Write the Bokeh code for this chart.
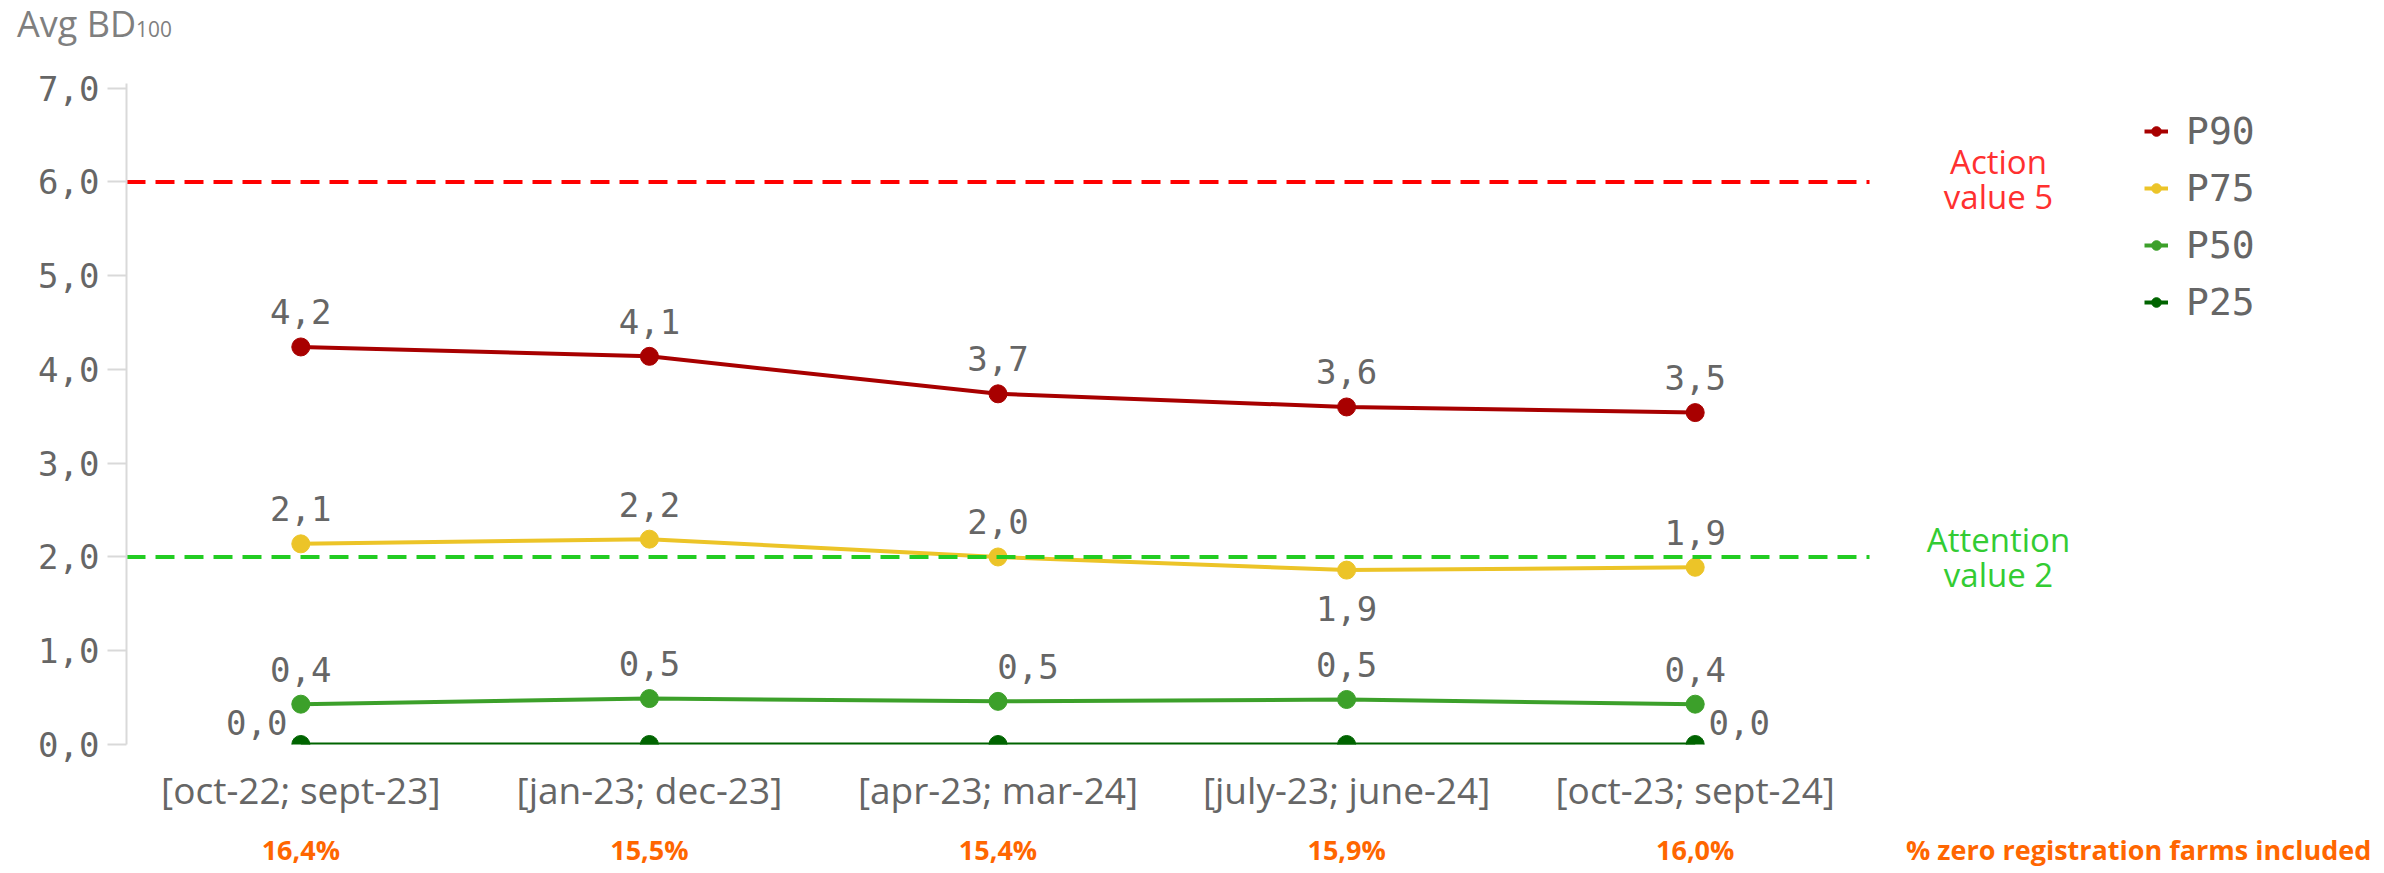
from bokeh.plotting import figure
from bokeh.layouts import column
from bokeh.models import (ColumnDataSource, Range1d, FixedTicker, Label, LinearAxis,
                          Legend, LegendItem, Div)
from bokeh.core.properties import value
from bokeh.embed import file_html
from bokeh.resources import INLINE

# ---------------- data ----------------
periods = ["[oct-22; sept-23]", "[jan-23; dec-23]", "[apr-23; mar-24]",
           "[july-23; june-24]", "[oct-23; sept-24]"]
series_names = ["P90", "P75", "P50", "P25"]
p90 = [4.24, 4.14, 3.74, 3.60, 3.54]
p75 = [2.14, 2.19, 2.00, 1.86, 1.89]
p50 = [0.43, 0.49, 0.46, 0.48, 0.43]
p25 = [0.0, 0.0, 0.0, 0.0, 0.0]
zero_reg_pct = [16.4, 15.5, 15.4, 15.9, 16.0]
zero_reg_caption = "% zero registration farms included"
action_value = 6.0
attention_value = 2.0
y_ticks = [0, 1, 2, 3, 4, 5, 6, 7]
title_main, title_sub = "Avg BD", "100"

# ---------------- styles ----------------
colors = {"P90": "#a80000", "P75": "#ecc428", "P50": "#3ca02a", "P25": "#006400"}
MONO = "DejaVu Sans Mono"
SANS = "Open Sans"
GRAY = "#666666"
ORANGE = "#ff6600"

# label placement (screen offsets, px) per series and point; None => hidden
ABOVE = (0, -35)
label_pos = {
    "P90": [ABOVE] * 5,
    "P75": [ABOVE, ABOVE, ABOVE, (0, 38), ABOVE],
    "P50": [ABOVE, ABOVE, (30, -35), ABOVE, ABOVE],
    "P25": [(-44, -22), None, None, None, (44, -22)],
}

def fmt(v):
    return f"{v:.1f}".replace(".", ",")

n = len(periods)
xs = [i + 0.5 for i in range(n)]          # category centres
X_END = 6.4773                            # extra room on the right for legend / notes
CAPTION_X = 5.772
NOTE_X = 5.37

W = 2384
TITLE_H = 50
H = 873 - TITLE_H

title = Div(text=f'{title_main}<span style="font-size:58%">{title_sub}</span>',
            width=W, height=TITLE_H, margin=0,
            styles={"font-family": "Open Sans", "font-size": "36px", "color": "#7f7f7f",
                    "line-height": "36px", "padding-top": "6px", "padding-left": "17px",
                    "white-space": "nowrap"})

p = figure(x_range=Range1d(0, X_END), y_range=Range1d(0, 7.05),
           width=W, height=H, output_backend="svg", toolbar_location=None,
           min_border_left=126, min_border_right=0, min_border_top=83 - TITLE_H,
           min_border_bottom=129)
p.outline_line_color = None
p.xgrid.visible = False
p.ygrid.visible = False
p.background_fill_color = "white"
p.border_fill_color = "white"

# y axis
ya = p.yaxis[0]
ya.ticker = FixedTicker(ticks=y_ticks)
ya.major_label_overrides = {t: fmt(t) for t in y_ticks}
ya.axis_line_color = "#d9d9d9"
ya.axis_line_width = 2
ya.major_tick_line_color = "#d9d9d9"
ya.major_tick_line_width = 2
ya.major_tick_out = 19
ya.major_tick_in = 0
ya.minor_tick_line_color = None
ya.major_label_standoff = 8
ya.major_label_text_font = MONO
ya.major_label_text_font_size = "34px"
ya.major_label_text_color = GRAY

# x axis (period labels)
xa = p.xaxis[0]
xa.ticker = FixedTicker(ticks=xs)
xa.major_label_overrides = {x: lab for x, lab in zip(xs, periods)}
xa.axis_line_color = None
xa.major_tick_line_color = None
xa.minor_tick_line_color = None
xa.major_tick_out = 0
xa.major_tick_in = 0
xa.major_label_standoff = 19
xa.major_label_text_font = SANS
xa.major_label_text_font_size = "37px"
xa.major_label_text_color = GRAY

# second x axis (share of zero-registration farms)
xa2 = LinearAxis(ticker=FixedTicker(ticks=xs + [CAPTION_X]))
xa2.major_label_overrides = {**{x: fmt(v) + "%" for x, v in zip(xs, zero_reg_pct)},
                             CAPTION_X: zero_reg_caption}
xa2.axis_line_color = None
xa2.major_tick_line_color = None
xa2.minor_tick_line_color = None
xa2.major_tick_out = 0
xa2.major_tick_in = 0
xa2.major_label_standoff = 13
xa2.major_label_text_font = SANS
xa2.major_label_text_font_style = "bold"
xa2.major_label_text_font_size = "27px"
xa2.major_label_text_color = ORANGE
p.add_layout(xa2, "below")

# action threshold line (over the category span)
p.segment(x0=[0], x1=[n], y0=[action_value], y1=[action_value], line_color="#ff0000",
          line_width=4, line_dash="19 10")

# series
values = {"P90": p90, "P75": p75, "P50": p50, "P25": p25}
legend_items = []
for name in series_names:
    vals = values[name]
    src = ColumnDataSource(dict(x=xs, y=vals))
    lr = p.line("x", "y", source=src, line_color=colors[name], line_width=4)
    sr = p.scatter("x", "y", source=src, size=18, fill_color=colors[name],
                   line_color=colors[name])
    legend_items.append(LegendItem(label=name, renderers=[lr, sr]))

# attention threshold line sits on top of the series, as in the original
p.segment(x0=[0], x1=[n], y0=[attention_value], y1=[attention_value], line_color="#22cc22",
          line_width=4, line_dash="19 10")

# value labels
for name in series_names:
    vals = values[name]
    lx, ly, txt, xo, yo = [], [], [], [], []
    for x, v, pos in zip(xs, vals, label_pos[name]):
        if pos is None:
            continue
        lx.append(x); ly.append(v); txt.append(fmt(v)); xo.append(pos[0]); yo.append(pos[1])
    lsrc = ColumnDataSource(dict(x=lx, y=ly, t=txt, xo=xo, yo=yo))
    p.text("x", "y", text="t", x_offset="xo", y_offset="yo", source=lsrc,
           text_font=value(MONO), text_font_size="34px", text_color=GRAY,
           text_align="center", text_baseline="alphabetic")

# threshold notes
p.add_layout(Label(x=NOTE_X, y=action_value, y_offset=3, text="Action\nvalue 5",
                   text_align="center", text_baseline="middle", text_font=SANS,
                   text_font_size="33px", text_line_height=0.78, text_color="#ff3030"))
p.add_layout(Label(x=NOTE_X, y=attention_value, text="Attention\nvalue 2", text_align="center",
                   text_baseline="middle", text_font=SANS, text_font_size="33px",
                   text_line_height=0.78, text_color="#33cc33"))

# legend
legend = Legend(items=legend_items, location=(2018, 420), orientation="vertical",
                padding=0, margin=0, spacing=13, glyph_width=24, glyph_height=44,
                label_height=44, label_standoff=18, label_text_font=MONO,
                label_text_font_size="38px", label_text_color=GRAY,
                border_line_color=None, background_fill_alpha=0)
p.add_layout(legend)

layout = column(title, p, spacing=0)
open("out.html", "w").write(file_html(layout, INLINE))
